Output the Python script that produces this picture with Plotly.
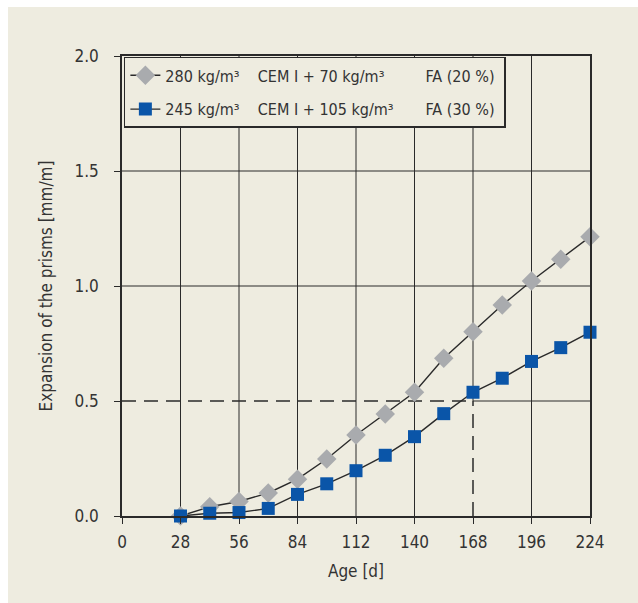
import plotly.graph_objects as go

# ---- data ----
age_days = [28, 42, 56, 70, 84, 98, 112, 126, 140, 154, 168, 182, 196, 210, 224]
exp_fa20 = [0.0, 0.04, 0.063, 0.10, 0.16, 0.248, 0.352, 0.443, 0.538, 0.686, 0.801, 0.917, 1.022, 1.116, 1.214]
exp_fa30 = [0.0, 0.012, 0.015, 0.033, 0.094, 0.14, 0.197, 0.264, 0.345, 0.445, 0.538, 0.599, 0.672, 0.732, 0.799]
x_ticks = [0, 28, 56, 84, 112, 140, 168, 196, 224]
y_ticks = [0.0, 0.5, 1.0, 1.5, 2.0]
limit_age = 168
limit_exp = 0.5
NB = "\u00a0"
name_fa20 = "280 kg/m³" + NB * 4 + "CEM I + 70 kg/m³" + NB * 9 + "FA (20 %)" + NB
name_fa30 = "245 kg/m³" + NB * 4 + "CEM I + 105 kg/m³" + NB * 7 + "FA (30 %)" + NB

FONT = "Liberation Sans Narrow, DejaVu Sans Condensed, Arial Narrow, sans-serif"
BG = "#eeece0"
INK = "#2a2a2a"

fig = go.Figure()
fig.add_trace(go.Scatter(
    x=age_days, y=exp_fa20, mode="lines+markers", name=name_fa20,
    legendgroup="a", cliponaxis=False,
    line=dict(color=INK, width=1.4),
    marker=dict(symbol="diamond", size=15, color="#a9abae", line=dict(width=0)),
))
fig.add_trace(go.Scatter(
    x=age_days, y=exp_fa30, mode="lines+markers", name=name_fa30,
    legendgroup="b", cliponaxis=False,
    line=dict(color=INK, width=1.4),
    marker=dict(symbol="square", size=13, color="#0a55a8", line=dict(width=0)),
))

shapes = []
# beige card background
shapes.append(dict(type="rect", xref="paper", yref="paper",
                   x0=(8 - 122) / 468, x1=(640 - 122) / 468,
                   y0=(516 - 603) / 460, y1=(516 - 7) / 460,
                   fillcolor=BG, line=dict(width=0), layer="below"))
# vertical grid lines
for xv in x_ticks[1:-1]:
    if xv == limit_age:
        shapes.append(dict(type="line", xref="x", yref="y", x0=xv, x1=xv,
                           y0=limit_exp, y1=y_ticks[-1],
                           line=dict(color=INK, width=1), layer="below"))
        shapes.append(dict(type="line", xref="x", yref="y", x0=xv, x1=xv,
                           y0=y_ticks[0], y1=limit_exp,
                           line=dict(color=INK, width=1.5, dash="14px,8px"), layer="below"))
    else:
        shapes.append(dict(type="line", xref="x", yref="y", x0=xv, x1=xv,
                           y0=y_ticks[0], y1=y_ticks[-1],
                           line=dict(color=INK, width=1), layer="below"))
# horizontal grid lines
for yv in y_ticks[1:-1]:
    if yv == limit_exp:
        shapes.append(dict(type="line", xref="x", yref="y", x0=limit_age, x1=x_ticks[-1],
                           y0=yv, y1=yv, line=dict(color=INK, width=1), layer="below"))
        shapes.append(dict(type="line", xref="x", yref="y", x0=x_ticks[0], x1=limit_age,
                           y0=yv, y1=yv, line=dict(color=INK, width=1.5, dash="14px,8px"),
                           layer="below"))
    else:
        shapes.append(dict(type="line", xref="x", yref="y", x0=x_ticks[0], x1=x_ticks[-1],
                           y0=yv, y1=yv, line=dict(color=INK, width=1), layer="below"))

fig.update_layout(
    width=638, height=603,
    margin=dict(l=122, r=48, t=56, b=87),
    paper_bgcolor="white",
    plot_bgcolor="rgba(0,0,0,0)",
    font=dict(family=FONT, size=17, color="#333333"),
    shapes=shapes,
    showlegend=True,
    legend=dict(
        x=0.004, y=0.998, xanchor="left", yanchor="top",
        bgcolor=BG, bordercolor=INK, borderwidth=1.5,
        font=dict(family=FONT, size=16, color="#333333"),
        tracegroupgap=10,
        itemwidth=30,
    ),
    xaxis=dict(
        range=[0, 224], tickvals=x_ticks, ticktext=[str(v) for v in x_ticks],
        showgrid=False, zeroline=False,
        showline=True, linecolor=INK, linewidth=1.5, mirror=True,
        ticks="outside", ticklen=6, tickcolor=INK, tickwidth=1,
        ticklabelstandoff=4,
        tickfont=dict(size=17),
        title=dict(text="Age [d]", standoff=14, font=dict(size=17)),
    ),
    yaxis=dict(
        range=[0, 2.0], tickvals=y_ticks, tickformat=".1f",
        showgrid=False, zeroline=False,
        showline=True, linecolor=INK, linewidth=1.5, mirror=True,
        ticks="outside", ticklen=6, tickcolor=INK, tickwidth=1,
        ticklabelstandoff=12,
        tickfont=dict(size=17),
        title=dict(text="Expansion of the prisms [mm/m]", standoff=18, font=dict(size=17)),
    ),
)

fig.write_html("out.html")
